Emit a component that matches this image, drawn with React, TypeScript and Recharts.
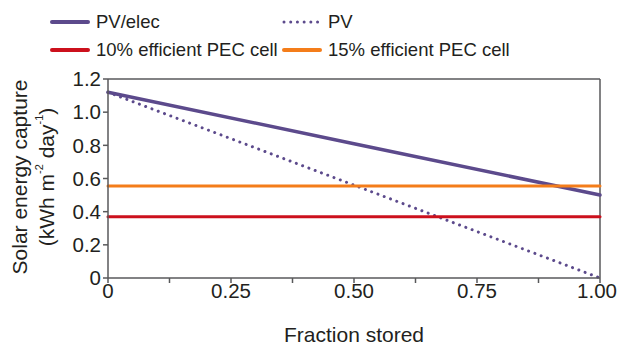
import React from "react";
import {
  LineChart,
  Line,
  XAxis,
  YAxis,
  ReferenceLine,
} from "recharts";

// values
const FRACTION = [0, 0.5, 1];
const PV_ELEC = [1.12, 0.81, 0.5];
const PV = [1.12, 0.56, 0];
const PEC_10 = [0.37, 0.37, 0.37];
const PEC_15 = [0.555, 0.555, 0.555];

const X_TICKS = [0, 0.125, 0.25, 0.375, 0.5, 0.625, 0.75, 0.875, 1];
const X_LABELS = ["0", "", "0.25", "", "0.50", "", "0.75", "", "1.00"];
const Y_TICKS = [0, 0.2, 0.4, 0.6, 0.8, 1.0, 1.2];
const Y_LABELS = ["0", "0.2", "0.4", "0.6", "0.8", "1.0", "1.2"];

const SERIES = [
  { key: "pvElec", name: "PV/elec", color: "#5c4a8c", width: 3.5, dotted: false },
  { key: "pv", name: "PV", color: "#5c4a8c", width: 3, dotted: true },
  { key: "pec10", name: "10% efficient PEC cell", color: "#cc101c", width: 3, dotted: false },
  { key: "pec15", name: "15% efficient PEC cell", color: "#f47d1a", width: 3, dotted: false },
];

const data = FRACTION.map((x, i) => ({
  x,
  pvElec: PV_ELEC[i],
  pv: PV[i],
  pec10: PEC_10[i],
  pec15: PEC_15[i],
}));

const AXIS = "#58595b";
const TEXT = "#231f20";
const FONT = '"Liberation Sans", Arial, sans-serif';

const legendPos = [
  { left: 50, top: 11 },
  { left: 282, top: 11 },
  { left: 50, top: 39 },
  { left: 282, top: 39 },
];

const XTick = (props: any) => {
  const { x, y, payload } = props;
  const label = X_LABELS[X_TICKS.indexOf(payload.value)] ?? "";
  if (!label) return null;
  const last = payload.value === 1;
  return (
    <text
      x={last ? x + 17 : x}
      y={y}
      dy={13}
      textAnchor={last ? "end" : "middle"}
      fill={TEXT}
      fontSize={20.5}
      fontFamily={FONT}
    >
      {label}
    </text>
  );
};

const AxisTitles = () => (
  <g fontFamily={FONT} fontSize={21} fill={TEXT}>
    <text
      x={19}
      y={177}
      transform="rotate(-90 19 177)"
      textAnchor="middle"
      dominantBaseline="central"
    >
      Solar energy capture
    </text>
    <text
      x={46}
      y={177}
      transform="rotate(-90 46 177)"
      textAnchor="middle"
      dominantBaseline="central"
    >
      (kWh m
      <tspan dy={-7} fontSize={11}>-2</tspan>
      <tspan dy={7}> day</tspan>
      <tspan dy={-7} fontSize={11}>-1</tspan>
      <tspan dy={7}>)</tspan>
    </text>
    <text x={354} y={334} textAnchor="middle" dominantBaseline="central">
      Fraction stored
    </text>
  </g>
);

export default function App() {
  return (
    <div
      style={{
        position: "absolute",
        top: 0,
        left: 0,
        width: 619,
        height: 348,
        background: "#fff",
        fontFamily: FONT,
      }}
    >
      {SERIES.map((s, i) => (
        <div
          key={s.key}
          style={{
            position: "absolute",
            left: legendPos[i].left,
            top: legendPos[i].top,
            display: "flex",
            alignItems: "center",
            fontSize: 18.5,
            color: TEXT,
            whiteSpace: "nowrap",
          }}
        >
          <svg width={40} height={10} style={{ marginRight: 6 }}>
            <line
              x1={2}
              y1={5}
              x2={38}
              y2={5}
              stroke={s.color}
              strokeWidth={s.dotted ? 3 : 4}
              strokeLinecap="round"
              strokeDasharray={s.dotted ? "0.01 6.7" : undefined}
            />
          </svg>
          {s.name}
        </div>
      ))}
      <LineChart
        width={619}
        height={348}
        data={data}
        margin={{ top: 79, right: 19, bottom: 0, left: 0 }}
      >
        <XAxis
          dataKey="x"
          type="number"
          domain={[0, 1]}
          ticks={X_TICKS}
          interval={0}
          height={70}
          stroke={AXIS}
          strokeWidth={1.5}
          tickSize={5}
          tick={<XTick />}
        />
        <YAxis
          type="number"
          domain={[0, 1.2]}
          ticks={Y_TICKS}
          tickFormatter={(v: number) => Y_LABELS[Y_TICKS.indexOf(v)] ?? ""}
          interval={0}
          width={108}
          stroke={AXIS}
          strokeWidth={1.5}
          tickSize={5}
          tickMargin={2}
          tick={{ fill: TEXT, fontSize: 20.5, fontFamily: FONT }}
        />
        <ReferenceLine y={1.2} stroke={AXIS} strokeWidth={1.5} />
        <ReferenceLine x={1} stroke={AXIS} strokeWidth={1.5} />
        {SERIES.map((s) => (
          <Line
            key={s.key}
            dataKey={s.key}
            name={s.name}
            type="linear"
            stroke={s.color}
            strokeWidth={s.width}
            strokeDasharray={s.dotted ? "0.01 6.7" : undefined}
            strokeLinecap="round"
            dot={false}
            activeDot={false}
            isAnimationActive={false}
          />
        ))}
        <AxisTitles />
      </LineChart>
    </div>
  );
}
